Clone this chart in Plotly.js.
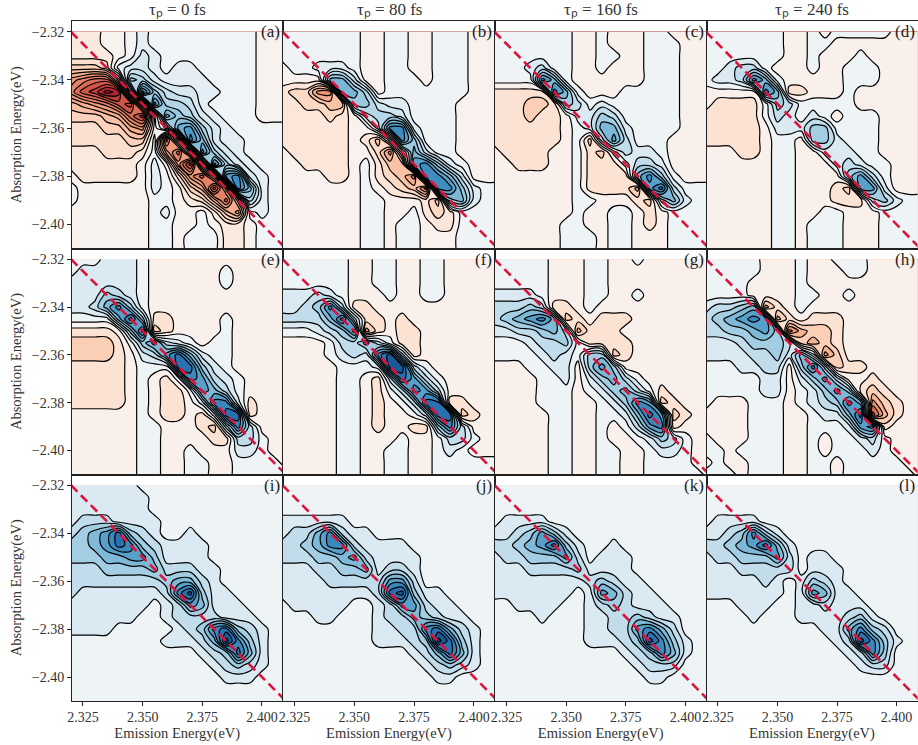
<!DOCTYPE html>
<html><head><meta charset="utf-8">
<script src="https://cdn.plot.ly/plotly-3.0.1.min.js"></script>
<style>html,body{margin:0;padding:0;background:#fff}</style></head>
<body><div id="chart" style="width:918px;height:745px"></div>
<script>
// Axis samples (eV)
const emission=[2.32,2.325,2.33,2.335,2.34,2.345,2.35,2.355,2.36,2.365,2.37,2.375,2.38,2.385,2.39,2.395,2.4,2.405,2.41];
const absorption=[-2.32,-2.325,-2.33,-2.335,-2.34,-2.345,-2.35,-2.355,-2.36,-2.365,-2.37,-2.375,-2.38,-2.385,-2.39,-2.395,-2.4,-2.405,-2.41];
const titles=['0','80','160','240'];
const letters=['a','b','c','d','e','f','g','h','i','j','k','l'];
const xTicks=[2.325,2.35,2.375,2.4];
const yTicks=[-2.32,-2.34,-2.36,-2.38,-2.4];
// Contour band at each sample: 1,2,3.. blue bands, 0,-1,-2.. red bands
const bandsA=[
[-1,-1,-1,0,0,1,2,1,1,1,1,1,1,1,1,1,0,0,0],
[-1,-1,-1,0,0,1,2,1,1,1,1,1,1,1,1,1,0,0,0],
[-1,-1,-1,-1,0,1,3,2,1,1,1,1,1,1,1,1,0,0,0],
[-3,-3,-3,-2,2,3,3,2,1,2,2,1,1,1,1,1,0,0,0],
[-6,-7,-8,-8,-3,6,5,3,2,2,2,2,1,1,1,1,0,0,0],
[-7,-9,-10,-12,-11,0,10,6,4,3,3,2,2,1,1,1,0,0,0],
[-4,-5,-6,-7,-9,-10,-3,9,5,5,4,2,1,1,1,1,0,0,0],
[-3,-3,-3,-4,-5,-8,-10,0,8,6,5,3,2,1,1,1,0,0,0],
[-2,-2,-2,-3,-3,-5,-6,0,3,8,9,5,3,2,1,1,1,1,1],
[-2,-2,-2,-2,-2,-3,-3,1,-8,-2,10,7,3,2,2,1,1,1,1],
[-1,-1,-1,-2,-2,-2,-1,1,-5,-8,-2,9,5,3,2,1,1,1,1],
[-1,-1,-1,-1,-1,-1,0,2,0,-6,-10,-1,9,5,3,2,1,1,1],
[0,-1,-1,-1,-1,-1,0,2,1,-2,-6,-8,-4,9,10,3,2,1,1],
[1,0,0,0,0,0,0,2,1,0,-3,-5,-10,-5,10,7,2,1,1],
[1,0,0,0,0,0,0,1,1,0,-1,-2,-5,-8,-3,5,2,1,1],
[0,0,0,0,0,0,0,1,2,0,0,1,-1,-4,-6,1,2,1,1],
[0,0,0,0,0,0,0,1,1,0,0,1,0,-1,-1,0,1,1,1],
[0,0,0,0,0,0,0,1,1,0,1,1,1,-1,-1,0,1,1,1],
[0,0,0,0,0,0,0,1,1,0,1,1,1,-1,-1,0,1,1,1]];
const bandsB=[
[1,1,1,1,1,1,1,0,0,1,1,0,0,1,1,1,0,0,0],
[1,1,1,1,1,1,1,0,0,1,1,0,0,1,1,1,0,0,0],
[1,1,1,1,1,1,1,0,0,1,1,0,0,1,1,1,0,0,0],
[0,1,1,2,2,2,1,0,0,1,1,0,0,1,1,1,0,0,0],
[0,0,0,0,6,6,3,0,0,1,1,1,0,1,1,1,0,0,0],
[-1,-2,-2,-5,-5,6,6,4,0,1,1,1,1,1,1,1,0,0,0],
[-1,-1,-2,-2,-3,-3,5,5,3,2,2,1,1,1,1,0,0,0,0],
[-1,-1,-1,-1,-2,-1,0,3,4,4,3,1,1,1,1,0,0,0,0],
[-1,-1,-1,-1,-1,-1,0,0,3,8,8,2,1,1,1,0,0,0,0],
[-1,-1,-1,-1,-1,-1,0,-1,-3,1,8,5,1,1,1,0,0,0,0],
[0,-1,-1,-1,-1,-1,0,0,-2,-5,1,6,3,1,1,0,0,0,0],
[0,0,-1,-1,-1,-1,0,1,-1,-3,-3,7,8,5,2,1,0,0,0],
[0,0,0,0,-1,-1,0,1,-1,-2,-3,-5,8,8,6,3,0,0,0],
[0,0,0,0,0,0,0,1,0,-1,-2,-3,-6,8,8,5,2,1,1],
[0,0,0,0,0,0,0,1,1,0,0,0,-1,-3,5,6,2,1,1],
[0,0,0,0,0,0,0,1,1,0,0,1,-1,-2,-1,1,1,1,1],
[0,0,0,0,0,0,0,1,1,0,1,1,0,-1,-1,1,1,1,1],
[0,0,0,0,0,0,0,1,1,0,1,1,0,0,0,1,1,1,1],
[0,0,0,0,0,0,0,1,1,0,1,1,0,0,0,1,1,1,1]];
const bandsC=[
[1,1,1,1,1,1,1,0,0,1,0,0,0,1,1,0,0,0,0],
[1,1,1,1,1,1,1,0,0,1,0,0,0,1,1,1,0,0,0],
[1,1,1,1,1,1,1,0,0,1,1,0,0,1,1,1,0,0,0],
[1,1,1,2,3,1,1,0,0,1,0,0,0,1,1,1,0,0,0],
[1,1,1,1,7,5,1,0,0,0,0,0,0,1,1,1,0,0,0],
[-1,-1,-1,-1,-1,7,5,1,0,0,0,1,1,1,1,1,0,0,0],
[-1,-1,-1,-2,-2,-1,4,3,1,2,1,1,1,1,1,1,0,0,0],
[-1,-1,-1,-2,-1,-1,0,2,2,4,3,1,1,1,1,1,0,0,0],
[-1,-1,-1,-1,-1,-1,0,1,2,5,5,2,1,1,1,1,0,0,0],
[-1,-1,-1,-1,-1,-1,0,1,-2,3,6,3,1,1,1,0,0,0,0],
[0,-1,-1,-1,-1,0,0,1,-1,-2,1,3,2,2,1,0,0,0,0],
[0,0,-1,-1,-1,0,0,1,-1,-1,-1,1,3,3,2,0,0,0,0],
[0,0,0,0,0,0,0,1,-1,-1,-1,-1,5,7,4,1,0,0,0],
[0,0,0,0,0,0,0,1,-1,-1,-1,-1,-3,6,8,3,1,1,1],
[0,0,0,0,0,0,0,1,1,0,0,0,-1,-2,3,5,2,1,1],
[0,0,0,0,0,0,0,1,0,0,1,1,0,-1,0,1,1,1,1],
[0,0,0,0,0,0,1,1,0,0,1,1,0,-1,0,1,1,1,1],
[0,0,0,0,0,0,1,1,1,0,1,1,0,0,0,1,1,1,1],
[0,0,0,0,0,0,1,1,1,0,1,1,0,0,0,1,1,1,1]];
const bandsD=[
[1,1,1,1,1,1,1,0,0,1,0,1,1,1,1,1,0,0,0],
[1,1,1,1,1,1,1,0,0,1,1,0,0,0,0,0,0,0,0],
[1,1,1,1,1,1,1,0,0,1,0,0,0,1,0,0,0,0,0],
[1,1,2,3,3,1,0,0,0,1,0,0,1,1,1,0,0,0,0],
[1,2,2,3,7,5,1,0,0,0,0,0,1,1,1,0,0,0,0],
[0,0,0,0,0,7,5,-1,-1,0,0,0,1,0,0,0,0,0,0],
[0,-1,-1,-1,-1,1,4,3,1,1,1,1,1,0,0,0,0,0,0],
[-1,-1,-1,-1,-1,1,3,2,1,2,1,0,1,1,1,0,0,0,0],
[-1,-1,-1,-1,-1,0,2,2,2,4,4,1,1,1,1,0,0,0,0],
[-1,-1,-1,-1,-1,0,1,1,0,4,4,2,1,1,1,0,0,0,0],
[0,0,0,-1,-1,0,1,1,0,0,2,2,2,1,1,0,0,0,0],
[0,0,0,0,0,0,1,1,0,0,0,2,3,2,1,1,0,0,0],
[0,0,0,0,0,0,1,1,0,0,0,0,4,6,3,1,0,0,0],
[0,0,0,0,0,0,1,1,0,0,0,-1,-2,6,6,2,0,0,0],
[0,0,0,0,0,0,1,1,0,0,0,-1,-1,-1,3,4,2,1,1],
[0,0,0,0,0,0,1,1,0,0,1,1,0,0,0,1,1,1,1],
[0,0,0,0,0,0,1,1,0,1,1,1,0,0,0,1,1,1,1],
[0,0,0,0,0,0,1,1,0,1,1,1,0,0,0,1,1,1,1],
[0,0,0,0,0,0,1,1,0,1,1,1,0,0,0,1,1,1,1]];
const bandsE=[
[1,1,1,2,2,2,1,0,0,0,0,0,0,0,0,0,0,0,0],
[1,2,2,2,2,2,1,0,0,0,0,0,0,1,0,0,0,0,0],
[2,2,2,2,2,2,1,0,0,0,0,0,0,1,0,0,0,0,0],
[2,2,2,4,3,2,1,0,0,0,0,0,0,0,0,0,0,0,0],
[2,2,3,5,7,4,1,0,0,0,0,0,0,0,0,0,0,0,0],
[1,1,1,1,5,8,4,-1,-1,0,0,0,0,1,0,0,0,0,0],
[-1,-1,-1,-1,0,4,8,-2,-1,0,0,0,0,1,0,0,0,0,0],
[-2,-2,-2,-2,-1,1,4,6,3,2,1,0,1,1,0,0,0,0,0],
[-2,-2,-2,-2,-1,0,2,3,6,8,5,2,1,1,0,0,0,0,0],
[-1,-1,-1,-1,-1,0,1,1,1,8,8,4,2,1,0,0,0,0,0],
[-1,-1,-1,-1,-1,0,1,0,-1,1,7,6,3,2,1,0,0,0,0],
[-1,-1,-1,-1,-1,0,1,0,-1,-1,1,6,5,3,1,0,0,0,0],
[-1,-1,-1,-1,-1,0,1,0,-1,-1,0,2,7,7,2,-1,0,0,0],
[0,0,0,0,0,0,1,0,-1,-1,0,-1,2,8,8,-1,0,0,0],
[0,0,0,0,0,0,1,1,0,0,0,-1,-2,3,7,3,0,0,0],
[0,0,0,0,0,0,1,1,0,0,0,0,-1,-1,3,3,1,0,0],
[0,0,0,0,0,0,1,1,0,0,1,0,0,0,2,2,1,0,0],
[0,0,0,0,0,0,1,1,0,0,1,1,0,0,1,1,1,1,0],
[0,0,0,0,0,0,1,1,0,0,1,1,0,0,1,1,1,1,1]];
const bandsF=[
[1,1,1,1,1,1,0,0,1,1,0,0,1,1,0,0,0,0,0],
[1,1,1,1,1,1,0,0,1,1,0,0,1,1,0,0,0,0,0],
[1,1,1,1,1,1,0,0,1,1,0,0,1,1,0,0,0,0,0],
[2,2,2,3,2,1,0,0,0,1,0,0,1,1,0,0,0,0,0],
[2,2,3,4,7,3,-1,-1,0,0,0,0,0,0,0,0,0,0,0],
[3,3,3,3,5,8,3,-1,-1,0,-1,0,0,0,0,0,0,0,0],
[1,1,1,2,3,4,7,-3,-1,0,-1,-1,0,0,0,0,0,0,0],
[0,0,0,0,1,3,3,5,3,1,-1,-1,0,0,0,0,0,0,0],
[0,0,0,0,1,2,3,2,7,9,3,-1,0,0,0,0,0,0,0],
[0,0,0,0,0,1,1,1,2,9,9,3,1,0,0,0,0,0,0],
[0,0,0,0,0,1,1,0,-1,3,8,6,3,1,0,0,0,0,0],
[0,0,0,0,0,1,1,0,-1,1,3,7,6,3,0,0,0,0,0],
[0,0,0,0,0,1,1,0,-1,0,1,3,8,8,-1,-1,0,0,0],
[0,0,0,0,0,1,1,0,-1,0,0,1,3,8,8,-2,-1,0,0],
[0,0,0,0,0,1,1,0,-1,0,0,-1,-1,4,7,3,0,0,0],
[0,0,0,0,0,1,1,0,0,0,1,0,0,1,3,3,1,0,0],
[0,0,0,0,0,1,1,0,0,1,1,0,0,1,2,1,0,0,0],
[0,0,0,0,0,1,1,0,0,1,1,0,0,1,1,1,1,1,1],
[0,0,0,0,0,1,1,0,0,1,1,0,0,1,1,1,1,1,1]];
const bandsG=[
[1,1,1,1,1,0,0,0,1,1,0,0,1,0,0,0,0,0,0],
[1,1,1,1,1,0,0,0,1,1,0,0,0,0,0,0,0,0,0],
[1,1,1,1,1,0,0,0,1,1,0,0,0,0,0,0,0,0,0],
[2,2,2,2,1,0,0,0,1,1,0,0,1,0,0,0,0,0,0],
[3,3,3,4,3,-1,-1,0,1,0,0,0,0,0,0,0,0,0,0],
[3,4,5,6,7,5,-2,-1,0,-1,-1,-1,0,0,0,0,0,0,0],
[2,2,3,3,4,5,3,-3,-1,-1,-1,0,0,0,0,0,0,0,0],
[1,1,1,2,3,3,4,1,-1,-1,-1,-1,0,0,0,0,0,0,0],
[1,1,1,1,2,3,2,1,4,4,-2,-1,0,0,0,0,0,0,0],
[0,0,0,1,1,2,2,0,4,6,4,0,0,0,0,0,0,0,0],
[0,0,0,0,1,1,2,0,2,4,5,3,1,0,0,0,0,0,0],
[0,0,0,0,1,1,1,0,1,2,4,5,3,1,-1,0,0,0,0],
[0,0,0,0,1,1,1,0,0,1,2,4,7,6,-2,-1,0,0,0],
[0,0,0,0,0,1,1,0,0,1,1,2,5,8,6,-2,-1,0,0],
[0,0,0,0,0,1,1,0,0,1,0,1,3,6,7,-1,0,0,0],
[0,0,0,0,0,1,1,0,0,1,0,0,1,2,4,3,1,0,0],
[0,0,0,0,0,1,1,0,0,1,1,0,0,1,2,2,1,0,0],
[0,0,0,0,0,1,1,0,0,1,1,0,0,1,1,1,1,0,0],
[0,0,0,0,0,1,1,0,0,1,1,0,0,1,1,1,1,1,0]];
const bandsH=[
[1,1,1,1,1,0,0,0,1,0,0,1,1,1,0,0,0,0,0],
[1,1,1,1,1,0,0,0,1,0,0,0,1,1,0,0,0,0,0],
[1,1,1,1,0,0,0,0,1,0,0,0,0,0,0,0,0,0,0],
[1,1,1,1,0,0,0,0,1,1,0,0,1,0,0,0,0,0,0],
[2,3,3,4,5,-3,-1,0,1,0,0,0,0,0,0,0,0,0,0],
[3,4,5,6,7,6,-3,-1,0,-1,-1,-1,0,0,0,0,0,0,0],
[3,3,4,4,5,6,4,-5,-3,-2,-2,-1,0,0,0,0,0,0,0],
[2,2,2,3,4,4,4,3,-2,-3,-2,-1,0,0,0,0,0,0,0],
[2,2,2,2,3,3,4,2,5,2,-4,-2,0,0,0,0,0,0,0],
[1,1,1,2,2,3,3,0,4,7,3,-2,-1,-1,0,0,0,0,0],
[1,1,1,1,1,2,2,0,2,4,6,3,0,0,-1,0,0,0,0],
[1,1,1,1,1,2,2,0,1,2,4,6,4,-1,-2,-1,0,0,0],
[1,0,0,0,1,1,1,0,1,2,3,4,7,5,-4,-2,-1,0,0],
[0,0,0,0,1,1,1,0,0,1,2,2,5,8,-6,-3,-1,0,0],
[0,0,0,0,1,1,1,0,0,1,1,1,2,6,7,-1,0,0,0],
[1,0,0,0,1,1,1,0,0,1,0,1,1,2,3,1,0,0,0],
[1,1,0,1,1,1,1,0,0,1,0,1,1,1,2,1,0,0,0],
[0,1,0,0,1,1,1,0,0,1,1,0,1,1,1,1,1,0,0],
[1,1,1,0,1,1,1,0,0,1,1,0,1,1,1,1,1,1,0]];
const bandsI=[
[2,2,2,2,2,2,1,1,1,1,1,1,1,1,1,1,1,1,1],
[2,2,2,2,2,2,2,1,1,1,1,1,1,1,1,1,1,1,1],
[2,2,2,2,2,2,2,1,1,1,1,1,1,1,1,1,1,1,1],
[2,3,3,3,2,2,2,2,1,1,1,1,1,1,1,1,1,1,1],
[3,4,5,6,8,4,3,2,1,1,2,1,1,1,1,1,1,1,1],
[4,4,5,6,8,7,4,3,2,2,2,2,1,1,1,1,1,1,1],
[4,4,4,5,5,6,6,4,2,2,2,2,1,1,1,1,1,1,1],
[3,3,3,4,4,4,4,5,3,3,3,2,2,1,1,1,1,1,1],
[3,3,3,3,3,3,3,3,4,5,5,3,2,1,1,1,1,1,1],
[3,2,2,2,2,2,2,2,3,7,9,4,2,2,1,1,1,1,1],
[2,2,2,2,2,2,2,1,2,3,6,5,2,2,2,1,1,1,1],
[2,2,2,2,2,2,1,1,2,3,3,3,3,2,2,2,1,1,1],
[2,2,2,2,1,1,1,1,1,2,3,4,7,8,4,3,2,1,1],
[1,1,1,1,1,1,1,1,2,2,2,3,5,10,7,4,2,1,1],
[1,1,1,1,1,1,1,1,1,1,1,2,3,4,8,5,2,1,1],
[1,1,1,1,1,1,1,1,1,1,1,1,2,3,4,3,2,1,1],
[1,1,1,1,1,1,1,1,1,1,1,1,1,2,2,2,1,1,1],
[1,1,1,1,1,1,1,1,1,1,1,1,1,1,1,1,1,1,1],
[1,1,1,1,1,1,1,1,1,1,1,1,1,1,1,1,1,1,1]];
const bandsJ=[
[1,1,1,1,1,1,1,1,1,1,1,1,1,1,1,1,1,1,1],
[1,1,1,1,1,1,1,1,1,1,1,1,1,1,1,1,1,1,1],
[1,1,1,1,1,1,1,1,1,1,1,1,1,1,1,1,1,1,1],
[2,2,2,2,2,2,1,1,1,1,1,1,1,1,1,1,1,1,1],
[2,3,3,5,7,3,2,2,1,1,1,1,1,1,1,1,1,1,1],
[3,3,4,5,7,7,3,2,2,2,2,1,1,1,1,1,1,1,1],
[3,3,3,4,4,5,6,3,2,2,2,2,1,1,1,1,1,1,1],
[2,2,2,3,3,4,4,5,2,3,3,2,1,1,1,1,1,1,1],
[2,2,2,2,3,3,3,3,3,6,6,3,1,1,1,1,1,1,1],
[2,2,2,2,2,2,2,2,3,8,9,4,2,2,1,1,1,1,1],
[1,2,2,2,2,2,1,1,2,3,6,6,3,2,2,1,1,1,1],
[1,1,1,2,2,1,1,1,2,3,3,5,4,3,2,2,1,1,1],
[1,1,1,1,1,1,1,1,2,2,3,3,7,8,5,3,2,1,1],
[1,1,1,1,1,1,1,1,2,2,2,3,4,10,8,4,2,1,1],
[1,1,1,1,1,1,1,1,1,1,1,2,3,5,8,5,2,1,1],
[1,1,1,1,1,1,1,1,1,1,1,1,2,3,4,3,2,1,1],
[1,1,1,1,1,1,1,1,1,1,1,1,1,2,2,1,1,1,1],
[1,1,1,1,1,1,1,1,1,1,1,1,1,1,1,1,1,1,1],
[1,1,1,1,1,1,1,1,1,1,1,1,1,1,1,1,1,1,1]];
const bandsK=[
[1,1,1,1,1,1,1,1,1,1,1,1,1,1,1,1,1,1,1],
[1,1,1,1,1,1,1,1,1,1,1,1,1,1,1,1,1,1,1],
[1,1,1,1,1,1,1,1,1,1,1,1,1,1,1,1,1,1,1],
[1,2,2,2,2,1,1,1,1,1,1,1,1,1,1,1,1,1,1],
[2,2,3,4,6,4,2,1,1,1,1,1,1,1,1,1,1,1,1],
[3,3,4,5,6,8,4,2,1,1,2,1,1,1,1,1,1,1,1],
[2,3,3,4,4,4,6,3,1,2,2,2,1,1,1,1,1,1,1],
[2,2,2,3,3,3,3,4,2,2,2,2,1,1,1,1,1,1,1],
[2,2,2,2,2,2,2,2,3,4,3,2,2,1,1,1,1,1,1],
[2,2,2,2,2,2,2,1,2,6,5,3,2,2,1,1,1,1,1],
[1,1,2,2,2,2,1,1,2,3,4,3,2,2,2,1,1,1,1],
[1,1,1,1,2,1,1,1,2,2,3,3,4,3,2,2,1,1,1],
[1,1,1,1,1,1,1,1,2,2,3,3,6,7,5,3,1,1,1],
[1,1,1,1,1,1,1,1,2,2,2,3,4,9,7,4,2,1,1],
[1,1,1,1,1,1,1,1,1,1,1,2,3,4,7,5,2,1,1],
[1,1,1,1,1,1,1,1,1,1,1,1,2,3,3,3,1,1,1],
[1,1,1,1,1,1,1,1,1,1,1,1,1,2,2,1,1,1,1],
[1,1,1,1,1,1,1,1,1,1,1,1,1,1,1,1,1,1,1],
[1,1,1,1,1,1,1,1,1,1,1,1,1,1,1,1,1,1,1]];
const bandsL=[
[1,1,1,1,1,1,1,1,1,1,1,1,1,1,1,1,1,1,1],
[1,1,1,1,1,1,1,1,1,1,1,1,1,1,1,1,1,1,1],
[1,1,1,1,1,1,1,1,1,1,1,1,1,1,1,1,1,1,1],
[1,2,2,2,2,1,1,1,1,1,1,1,1,1,1,1,1,1,1],
[2,2,3,4,7,4,2,1,1,1,1,1,1,1,1,1,1,1,1],
[3,3,4,5,6,8,5,2,1,1,1,1,1,1,1,1,1,1,1],
[2,3,3,4,4,4,6,3,1,2,2,1,1,1,1,1,1,1,1],
[2,2,2,3,3,3,3,3,1,2,2,2,1,1,1,1,1,1,1],
[2,2,2,2,2,3,2,1,2,4,3,2,1,1,1,1,1,1,1],
[2,2,2,2,2,2,2,1,2,6,5,2,2,1,1,1,1,1,1],
[1,1,1,2,2,2,1,1,2,2,3,2,2,2,1,1,1,1,1],
[1,1,1,1,2,1,1,1,2,2,2,2,3,4,2,1,1,1,1],
[1,1,1,1,1,1,1,1,1,1,2,2,5,7,4,3,1,1,1],
[1,1,1,1,1,1,1,1,1,1,1,2,3,9,7,4,2,1,1],
[1,1,1,1,1,1,1,1,1,1,1,1,2,3,7,4,1,1,1],
[1,1,1,1,1,1,1,1,1,1,1,1,1,2,3,3,1,1,1],
[1,1,1,1,1,1,1,1,1,1,1,1,1,1,1,1,1,1,1],
[1,1,1,1,1,1,1,1,1,1,1,1,1,1,1,1,1,1,1],
[1,1,1,1,1,1,1,1,1,1,1,1,1,1,1,1,1,1,1]];
const panels=[bandsA,bandsB,bandsC,bandsD,bandsE,bandsF,bandsG,bandsH,bandsI,bandsJ,bandsK,bandsL];
const bandSpan=[15,12,10,10,10,10,10,10,10,10,10,10];

const W=918,H=745;
const colEdges=[71.5,283,495,706.5,917.5];
const rowEdges=[21,248.5,474.5,701];
const rdbu=[[0,'#67001f'],[.1,'#b2182b'],[.2,'#d6604d'],[.3,'#f4a582'],[.4,'#fddbc7'],[.5,'#f7f7f7'],[.6,'#d1e5f0'],[.7,'#92c5de'],[.8,'#4393c3'],[.9,'#2166ac'],[1,'#053061']];
const serif='"Liberation Serif","Times New Roman",serif';
const traces=[],annotations=[];
const layout={width:W,height:H,margin:{l:0,r:0,t:0,b:0},paper_bgcolor:'#fff',plot_bgcolor:'#fff',showlegend:false,font:{family:serif,color:'#262626',size:13}};
panels.forEach((z,k)=>{
  const r=Math.floor(k/4),c=k%4,s=k===0?'':String(k+1);
  traces.push({type:'contour',x:emission,y:absorption,z:z,xaxis:'x'+s,yaxis:'y'+s,
    autocontour:false,contours:{start:-15.5,end:16.5,size:1,coloring:'fill'},
    zauto:false,zmin:0.5-bandSpan[k],zmax:0.5+bandSpan[k],colorscale:rdbu,showscale:false,hoverinfo:'skip',
    line:{color:'#000',width:1.2,smoothing:1}});
  traces.push({type:'scatter',mode:'lines',x:[emission[0],emission[18]],y:[absorption[0],absorption[18]],xaxis:'x'+s,yaxis:'y'+s,
    line:{color:'#dc143c',width:2.6,dash:'9px,5px'},hoverinfo:'skip'});
  const xa={domain:[colEdges[c]/W,colEdges[c+1]/W],range:[2.3202,2.4088],anchor:'y'+s,showgrid:false,zeroline:false,
    showline:true,mirror:true,linecolor:'#222',linewidth:1,ticks:r===2?'outside':'',ticklen:3.5,tickcolor:'#222',
    tickvals:r===2?xTicks:[],tickformat:'.3f',showticklabels:r===2,tickfont:{family:serif,size:14,color:'#333'}};
  if(r===2) xa.title={text:'Emission Energy(eV)',font:{family:serif,size:14.5,color:'#333'},standoff:3};
  const ya={domain:[1-rowEdges[r+1]/H,1-rowEdges[r]/H],range:[-2.41,-2.3155],anchor:'x'+s,showgrid:false,zeroline:false,
    showline:true,mirror:true,linecolor:'#222',linewidth:1,ticks:c===0?'outside':'',ticklen:3.5,tickcolor:'#222',
    tickvals:c===0?yTicks:[],tickformat:'.2f',showticklabels:c===0,tickfont:{family:serif,size:14,color:'#333'}};
  if(c===0) ya.title={text:'Absorption Energy(eV)',font:{family:serif,size:14.5,color:'#333'},standoff:6};
  layout['xaxis'+s]=xa; layout['yaxis'+s]=ya;
  annotations.push({xref:'paper',yref:'paper',x:(colEdges[c+1]-1)/W,y:1-(rowEdges[r]-1)/H,xanchor:'right',yanchor:'top',showarrow:false,
    text:'('+letters[k]+')',font:{family:serif,size:17,color:'#222'}});
  if(r===0) annotations.push({xref:'paper',yref:'paper',x:(colEdges[c]+colEdges[c+1])/2/W,y:1-10.5/H,xanchor:'center',yanchor:'middle',showarrow:false,
    text:'τₚ = '+titles[c]+' fs',font:{family:serif,size:17,color:'#333'}});
});
layout.annotations=annotations;
Plotly.newPlot('chart',traces,layout,{displayModeBar:false,staticPlot:true});
</script></body></html>
